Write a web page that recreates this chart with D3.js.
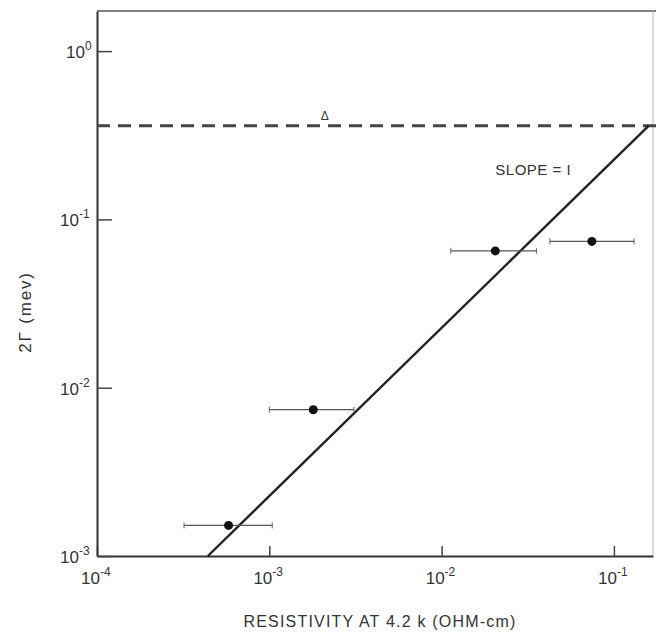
<!DOCTYPE html>
<html>
<head>
<meta charset="utf-8">
<script src="https://cdn.jsdelivr.net/npm/d3@7"></script>
<style>
  body { margin: 0; background: #fff; }
  text { font-family: "Liberation Sans", Arial, sans-serif; fill: #333; }
</style>
</head>
<body>
<div id="chart"></div>
<script>
// data (log-log)
var resistivity = [5.8e-4, 1.8e-3, 2.05e-2, 7.45e-2];
var resLow      = [3.2e-4, 1.0e-3, 1.13e-2, 4.25e-2];
var resHigh     = [1.04e-3, 3.1e-3, 3.55e-2, 0.131];
var gamma2      = [1.52e-3, 7.4e-3, 6.5e-2, 7.4e-2];
var deltaLevel  = 0.36;
var slopeLine   = [[4.4e-4, 1e-3], [0.159, 0.36]];
var xTicks = [1e-4, 1e-3, 1e-2, 1e-1];
var xTickExp = ["-4", "-3", "-2", "-1"];
var yTicks = [1e-3, 1e-2, 1e-1, 1];
var yTickExp = ["-3", "-2", "-1", "0"];

var width = 656, height = 638;
var margin = {top: 11, right: 3, bottom: 82, left: 97};
var innerWidth = width - margin.left - margin.right,
    innerHeight = height - margin.top - margin.bottom;

var xScale = d3.scaleLog()
  .domain([1e-4, Math.pow(10, innerWidth / 172.3 - 4)])
  .range([0, innerWidth]);
var yScale = d3.scaleLog()
  .domain([1e-3, Math.pow(10, innerHeight / 168.3 - 3)])
  .range([innerHeight, 0]);

var svg = d3.select("#chart").append("svg")
  .attr("width", width)
  .attr("height", height)
  .style("display", "block");
var g = svg.append("g")
  .attr("transform", "translate(" + margin.left + "," + margin.top + ")");

// frame: top and right are lighter
g.append("line").attr("x1", 0).attr("x2", innerWidth + 3).attr("y1", 0).attr("y2", 0)
  .attr("stroke", "#555").attr("stroke-width", 1.5);
g.append("line").attr("x1", innerWidth).attr("x2", innerWidth).attr("y1", 0).attr("y2", innerHeight)
  .attr("stroke", "#bbb").attr("stroke-width", 1);

// x axis (ticks point inward, labels drawn below)
var xAxis = g.append("g").attr("class", "x axis")
  .attr("transform", "translate(0," + innerHeight + ")")
  .call(d3.axisBottom(xScale).tickValues(xTicks).tickSizeInner(-10).tickSizeOuter(0).tickFormat(""));
xAxis.select(".domain").attr("stroke", "#333").attr("stroke-width", 2);
xAxis.selectAll(".tick line").attr("stroke", "#444").attr("stroke-width", 1.5);
xAxis.selectAll(".tick text").remove();

g.selectAll(".xlab").data(xTicks).enter().append("text")
  .attr("class", "xlab")
  .attr("x", function (d) { return xScale(d) + 3; })
  .attr("y", innerHeight + 28)
  .attr("text-anchor", "end").style("font-size", "17px").text("10");
g.selectAll(".xexp").data(xTicks).enter().append("text")
  .attr("class", "xexp")
  .attr("x", function (d) { return xScale(d) + 3; })
  .attr("y", innerHeight + 20)
  .attr("text-anchor", "start").style("font-size", "12px")
  .text(function (d, i) { return xTickExp[i]; });

// y axis
var yAxis = g.append("g").attr("class", "y axis")
  .call(d3.axisLeft(yScale).tickValues(yTicks).tickSizeInner(-15).tickSizeOuter(0).tickFormat(""));
yAxis.select(".domain").attr("stroke", "#333").attr("stroke-width", 2);
yAxis.selectAll(".tick line").attr("stroke", "#444").attr("stroke-width", 1.5);
yAxis.selectAll(".tick text").remove();

function expWidth(i) { return yTickExp[i].length > 1 ? 14 : 8; }
g.selectAll(".ylab").data(yTicks).enter().append("text")
  .attr("class", "ylab")
  .attr("x", function (d, i) { return -4 - expWidth(i); })
  .attr("y", function (d) { return yScale(d) + 7; })
  .attr("text-anchor", "end").style("font-size", "17px").text("10");
g.selectAll(".yexp").data(yTicks).enter().append("text")
  .attr("class", "yexp")
  .attr("x", function (d, i) { return -4 - expWidth(i); })
  .attr("y", function (d) { return yScale(d) - 1; })
  .attr("text-anchor", "start").style("font-size", "12px")
  .text(function (d, i) { return yTickExp[i]; });

// dashed delta level
g.append("line")
  .attr("x1", 0).attr("x2", innerWidth + 3)
  .attr("y1", yScale(deltaLevel)).attr("y2", yScale(deltaLevel))
  .attr("stroke", "#444").attr("stroke-width", 3)
  .attr("stroke-dasharray", "13,8");
g.append("text")
  .attr("x", xScale(2.1e-3)).attr("y", yScale(deltaLevel) - 6)
  .attr("text-anchor", "middle")
  .style("font-size", "12px")
  .text("\u0394");

// slope = 1 line
g.append("line")
  .attr("x1", xScale(slopeLine[0][0])).attr("y1", yScale(slopeLine[0][1]))
  .attr("x2", xScale(slopeLine[1][0])).attr("y2", yScale(slopeLine[1][1]))
  .attr("stroke", "#222").attr("stroke-width", 2.4);
g.append("text")
  .attr("x", xScale(2.05e-2)).attr("y", yScale(0.2) + 6)
  .style("font-size", "15px")
  .style("letter-spacing", "0.5px")
  .text("SLOPE = I");

// data points with horizontal error bars
var pts = resistivity.map(function (r, i) {
  return {x: r, lo: resLow[i], hi: resHigh[i], y: gamma2[i]};
});
var pg = g.selectAll(".pt").data(pts).enter().append("g").attr("class", "pt");
pg.append("line")
  .attr("x1", function (d) { return xScale(d.lo); })
  .attr("x2", function (d) { return xScale(d.hi); })
  .attr("y1", function (d) { return yScale(d.y); })
  .attr("y2", function (d) { return yScale(d.y); })
  .attr("stroke", "#555").attr("stroke-width", 1.2);
pg.append("line")
  .attr("x1", function (d) { return xScale(d.lo); })
  .attr("x2", function (d) { return xScale(d.lo); })
  .attr("y1", function (d) { return yScale(d.y) - 3; })
  .attr("y2", function (d) { return yScale(d.y) + 3; })
  .attr("stroke", "#666").attr("stroke-width", 1);
pg.append("line")
  .attr("x1", function (d) { return xScale(d.hi); })
  .attr("x2", function (d) { return xScale(d.hi); })
  .attr("y1", function (d) { return yScale(d.y) - 3; })
  .attr("y2", function (d) { return yScale(d.y) + 3; })
  .attr("stroke", "#666").attr("stroke-width", 1);
pg.append("circle")
  .attr("cx", function (d) { return xScale(d.x); })
  .attr("cy", function (d) { return yScale(d.y); })
  .attr("r", 4.5)
  .attr("fill", "#111");

// axis titles
svg.append("text")
  .attr("x", 380).attr("y", 627)
  .attr("text-anchor", "middle")
  .style("font-size", "16px")
  .style("letter-spacing", "1.2px")
  .text("RESISTIVITY  AT  4.2 k (OHM-cm)");
svg.append("text")
  .attr("x", 31).attr("y", 312)
  .attr("transform", "rotate(-90,31,312)")
  .attr("text-anchor", "middle")
  .style("font-size", "17px")
  .style("letter-spacing", "1.8px")
  .text("2\u0393 (mev)");
</script>
</body>
</html>
